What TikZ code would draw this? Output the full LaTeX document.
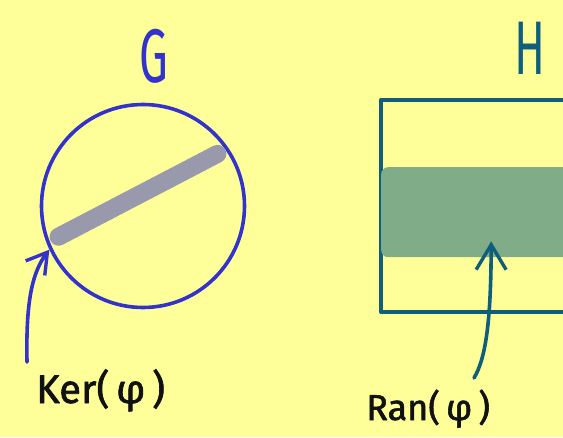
\documentclass[tikz,border=0pt]{standalone}
\usepackage{fontspec}
\setmainfont{Fira Sans}
\newfontfamily\handfont[FakeStretch=0.6]{Fira Sans}
\newfontfamily\labelfont[FakeBold=1.6]{Fira Sans}
\usetikzlibrary{calc,arrows.meta}
\usetikzlibrary{positioning}
\definecolor{hw-bg}{HTML}{FFFF99}
\definecolor{hw-blue}{HTML}{3333CC}
\definecolor{hw-kernel}{HTML}{9999AE}
\definecolor{hw-teal}{HTML}{0F5E7C}
\definecolor{hw-range}{HTML}{80AD88}
\definecolor{hw-text}{HTML}{111111}

\begin{document}
\begin{tikzpicture}[x=1pt, y=-1pt, line cap=round, line join=round,
    hand/.style={line width=3.6pt},
    kerhead/.style={-{Straight Barb[length=20pt,width=24pt,line width=3.4pt]}},
    ranhead/.style={-{Straight Barb[length=25pt,width=30pt,line width=3.4pt]}}]
    % --- Page ---
    \fill[hw-bg] (0,0) rectangle (563,437);
    \useasboundingbox (0,0) rectangle (563,437);
    \clip (0,0) rectangle (563,437);

    % --- Left: the group G and its kernel ---
    \node[circle, draw=hw-blue, hand, minimum size=203pt, inner sep=0pt] (gcirc) at (143,206) {};
    \node[hw-blue, font=\handfont\fontsize{76}{76}\selectfont] (glabel) at (154,56) {G};
    \draw[hw-kernel, line width=18pt]
        ($(gcirc.center)!0.87!(gcirc.200)$) -- ($(gcirc.center)!0.88!(gcirc.35)$);

    % Kernel label and arrow
    \node[anchor=base west, inner sep=0pt, hw-text, font=\labelfont\fontsize{40}{40}\selectfont] (kerlabel) at (36,403) {Ker(\,φ\,)};
    \coordinate (kertail) at (27,362);
    \draw[hw-blue, hand, kerhead] (kertail) .. controls (26,310) and (30,275) .. (gcirc.205);

    % --- Right: the group H and the range ---
    \node[draw=hw-teal, line width=3.8pt, rectangle, anchor=north west, inner sep=0pt,
        minimum width=230pt, minimum height=212pt] (hbox) at (379,98) {};
    \node[hw-teal, font=\handfont\fontsize{76}{76}\selectfont] (hlabel) at (530,48) {H};
    \node[fill=hw-range, rounded corners=7pt, anchor=north west, inner sep=0pt,
        minimum width=200pt, minimum height=90pt] (ranband) at (381,167) {};

    % Range label and arrow
    \node[anchor=base west, inner sep=0pt, hw-text, font=\labelfont\fontsize{36}{36}\selectfont] (ranlabel) at (366,420) {Ran(\,φ\,)};
    \coordinate (rantail) at (474,378);
    \draw[hw-teal, hand, ranhead] (rantail) .. controls (486,358) and (491,320) .. ([xshift=10pt,yshift=16pt]ranband.south);
\end{tikzpicture}
\end{document}
